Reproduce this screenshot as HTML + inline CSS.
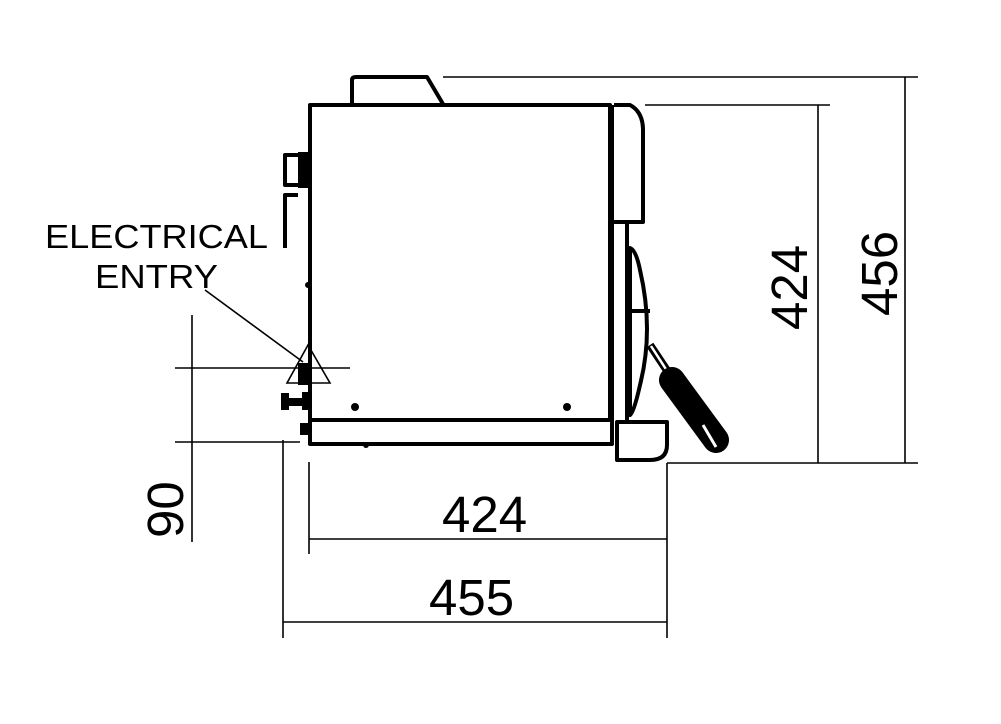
<!DOCTYPE html>
<html><head><meta charset="utf-8"><style>
html,body{margin:0;padding:0;background:#fff}
svg{display:block}
text{font-family:"Liberation Sans",sans-serif;fill:#000}
</style></head><body>
<svg width="1001" height="724" viewBox="0 0 1001 724" xmlns="http://www.w3.org/2000/svg">
<g fill="none" stroke="#000" stroke-width="1.6">
<line x1="443" y1="77" x2="918" y2="77"/>
<line x1="645" y1="105" x2="830" y2="105"/>
<line x1="905" y1="77" x2="905" y2="463"/>
<line x1="818" y1="105" x2="818" y2="463"/>
<line x1="667" y1="463" x2="918" y2="463"/>
<line x1="667" y1="463" x2="667" y2="638"/>
<line x1="309" y1="462" x2="309" y2="554"/>
<line x1="283" y1="440" x2="283" y2="638"/>
<line x1="309" y1="539" x2="667" y2="539"/>
<line x1="283" y1="622" x2="667" y2="622"/>
<line x1="192" y1="315" x2="192" y2="542"/>
<line x1="175" y1="368" x2="350" y2="368"/>
<line x1="175" y1="442" x2="300" y2="442"/>
<line x1="205" y1="290" x2="303" y2="362"/>
<polygon points="308,345 287,383 330,383"/>
</g>
<g fill="none" stroke="#000" stroke-width="4" stroke-linejoin="round">
<path d="M352,104 V80 Q352,77 356,77 H427 L443,104"/>
<rect x="310" y="105" width="300" height="315"/>
<rect x="310" y="420" width="302" height="24"/>
<line x1="612" y1="105" x2="612" y2="420"/>
<path d="M614,105 H630 Q643,112 643,130 V222 H614"/>
<path d="M627,222 V420"/>
<path d="M630,248 Q636,250 640,270 Q654,330 640,385 Q634,412 630,415 Z"/>
<line x1="630" y1="311" x2="650" y2="311"/>
<path d="M617,422 H667 V445 Q667,460 650,460 H617 Z"/>
<path d="M298,155 H285 V185 H298"/>
<path d="M298,195 H285 V248"/>
</g>
<g fill="#000" stroke="none">
<rect x="298" y="152" width="12" height="36"/>
<rect x="298" y="363" width="12" height="22"/>
<rect x="281" y="393" width="8" height="17"/>
<rect x="289" y="398" width="14" height="8"/>
<rect x="302" y="392" width="8" height="18"/>
<rect x="300" y="423" width="10" height="12"/>
<circle cx="355" cy="407" r="4"/>
<circle cx="567" cy="407" r="4"/>
<circle cx="308" cy="285" r="3"/>
<circle cx="366" cy="445" r="3"/>
</g>
<line x1="650" y1="345" x2="672" y2="378" stroke="#000" stroke-width="8"/>
<line x1="651" y1="346" x2="671" y2="377" stroke="#fff" stroke-width="2.5"/>
<line x1="672" y1="380" x2="716" y2="440" stroke="#000" stroke-width="26" stroke-linecap="round"/>
<line x1="703" y1="425" x2="716" y2="447" stroke="#fff" stroke-width="3"/>
<text x="45" y="248" font-size="33" textLength="223" lengthAdjust="spacingAndGlyphs">ELECTRICAL</text>
<text x="95" y="288" font-size="33" textLength="123" lengthAdjust="spacingAndGlyphs">ENTRY</text>
<text x="442" y="532" font-size="51">424</text>
<text x="429" y="615" font-size="51">455</text>
<text transform="translate(183,538) rotate(-90)" font-size="51">90</text>
<text transform="translate(807,330) rotate(-90)" font-size="51">424</text>
<text transform="translate(897,316) rotate(-90)" font-size="51">456</text>
</svg>
</body></html>
